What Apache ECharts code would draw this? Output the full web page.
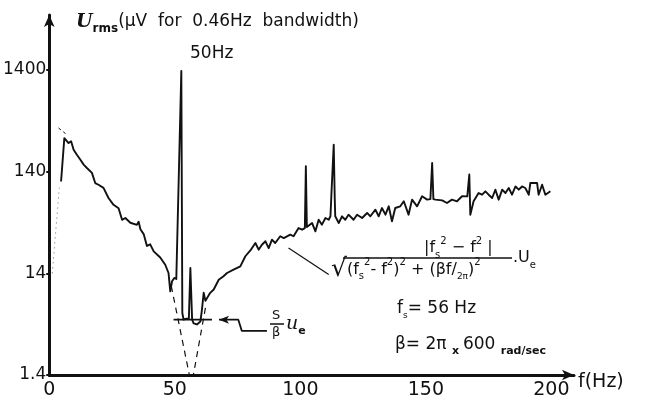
<!DOCTYPE html>
<html><head><meta charset="utf-8">
<script src="https://cdn.jsdelivr.net/npm/echarts@6/dist/echarts.min.js"></script>
<style>html,body{margin:0;padding:0;background:#fff}#c{width:648px;height:406px}</style>
</head><body><div id="c"></div>
<script>
// Measured spectrum: frequency (Hz) and U_rms (µV)
const freq = [4.7,6.0,7.7,8.7,9.7,11.0,12.4,13.7,15.0,17.0,18.3,19.6,21.6,23.6,25.6,27.6,29.0,30.3,32.3,34.9,35.6,36.3,37.6,38.9,40.2,41.6,44.2,46.2,47.5,48.2,48.9,49.8,50.6,52.6,53.0,53.5,54.6,55.6,56.2,56.9,57.5,58.8,60.2,60.8,61.5,62.2,62.8,64.1,65.5,67.5,69.4,70.8,73.4,76.1,78.1,80.1,82.1,83.4,84.7,86.1,87.4,88.7,90.0,92.0,93.4,96.0,97.3,99.3,100.7,101.8,102.2,102.6,103.3,104.7,106.0,107.3,108.6,110.0,111.3,112.0,112.4,112.9,113.3,113.7,113.9,115.3,116.6,117.9,119.2,121.2,122.6,124.6,126.6,127.9,129.9,131.2,132.5,133.9,135.2,136.5,137.8,139.8,141.2,143.1,144.5,146.5,148.5,150.5,151.8,152.5,153.0,153.8,156.5,158.4,160.4,162.4,164.4,166.5,167.3,167.7,169.0,171.0,172.4,173.7,175.0,176.4,177.7,179.0,180.4,181.7,183.0,184.3,185.7,187.0,188.3,189.6,191.0,191.6,194.3,194.9,196.3,197.6,199.6];
const urms = [112,299,267,278,230,205,183,164,152,136,108,104,97,77,66,61,47,49,44,42,45,38,34,26,27,23,20,17,14.1,9.3,11.7,12.6,12.3,1365,5.7,4.9,5.0,5.0,15.8,4.9,4.5,4.4,4.7,6.1,9.0,7.5,7.3,9.0,9.7,12.1,13.1,14.1,15.2,16.4,20.6,23.5,27.8,23.9,26.7,28.9,24.8,30,27.8,32.4,31.1,33.6,32.4,39,37.6,39,158,40,40.6,43.7,36.2,47.1,42.1,49,47.1,50.9,86,86,257,77,50.9,43.7,50.9,47.1,52.8,47.1,52.8,49,54.9,50.9,59.1,50.9,61.4,52.8,63.8,45.4,61.4,63.8,71.5,52.8,74.2,63.8,80.1,74.2,75,170,75,74.2,73,68.8,74.2,71.5,80.1,80,131,52.8,71.5,86.2,83,89.6,83,77,93,74.2,93,86.2,96.6,83,100,93,100,96.6,83,108,108,83,104,83,89.6];
// Theoretical notch (dashed) and extrapolations
const notchLeftF = [48.6, 55.8], notchLeftU = [10.5, 1.4];
const notchRightF = [62.2, 57.4], notchRightU = [6.4, 1.4];
const lowEndF = [3.7, 7.0], lowEndU = [376, 323];
const axisDotF = [1.2, 4.0], axisDotU = [14, 97];
// Floor level S/beta * Ue
const floorF = [49.5, 64.8], floorU = [4.9, 4.9];
const floorArrowF = [67.6, 75.3, 76.7, 86.7], floorArrowU = [4.9, 4.9, 3.8, 3.8];
const formulaPtrF = [95.3, 111.3], formulaPtrU = [24.8, 13.6];
const xTicks = [0, 50, 100, 150, 200];
const yTicks = ['1.4', '14', '140', '1400'];

const Y0 = 1.4;
const ly = u => Math.log10(u / Y0);
const pts = (fs, us) => fs.map((f, i) => [f, ly(us[i])]);

const FONT = 'DejaVu Sans';
const INK = '#111';

const chart = echarts.init(document.getElementById('c'));
const txt = (left, top, text, rich, size) => ({
  type: 'text', left, top,
  style: { text, fill: INK, font: (size || 16) + 'px ' + FONT, rich: rich || {} }
});
const R = {
  t: { fontSize: 16, fontFamily: FONT, color: INK, lineHeight: 24, verticalAlign: 'middle' },
  sb: { fontSize: 10, fontFamily: FONT, color: INK, verticalAlign: 'bottom', lineHeight: 24 },
  sp: { fontSize: 10, fontFamily: FONT, color: INK, verticalAlign: 'top', lineHeight: 24 },
  sm: { fontSize: 9, fontFamily: FONT, color: INK, verticalAlign: 'bottom', lineHeight: 22 },
  rad: { fontSize: 25, fontFamily: FONT, color: INK, lineHeight: 24, verticalAlign: 'middle' }
};

chart.setOption({
  animation: false,
  backgroundColor: '#fff',
  title: {
    text: '{u|U}{s|rms}{t|(μV  for  0.46Hz  bandwidth)}',
    left: 71, top: 4,
    textStyle: {
      fontWeight: 'normal',
      rich: {
        u: { fontSize: 19, fontFamily: 'DejaVu Serif', fontStyle: 'italic', fontWeight: 'bold', color: INK, lineHeight: 26, verticalAlign: 'middle' },
        s: { fontSize: 12, fontFamily: FONT, fontWeight: 'bold', color: INK, verticalAlign: 'bottom', lineHeight: 26 },
        t: { fontSize: 17, fontFamily: FONT, fontWeight: 'normal', color: INK, lineHeight: 26, verticalAlign: 'middle' }
      }
    }
  },
  grid: { left: 49, right: 74, top: 15, bottom: 31 },
  xAxis: {
    type: 'value', min: 0, max: 209, interval: 50,
    axisLine: { lineStyle: { color: INK, width: 3 }, symbol: ['none', 'arrow'], symbolSize: [8, 12] },
    axisTick: { show: false },
    splitLine: { show: false },
    axisLabel: {
      color: INK, fontSize: 19, fontFamily: FONT, margin: 6, showMaxLabel: false,
      formatter: v => xTicks.includes(v) ? String(v) : ''
    }
  },
  yAxis: {
    type: 'value', min: 0, max: 3.54, interval: 1,
    axisLine: { show: true, lineStyle: { color: INK, width: 3 }, symbol: ['none', 'arrow'], symbolSize: [8, 12] },
    axisTick: { show: true, length: 3, lineStyle: { color: INK, width: 2 } },
    splitLine: { show: false },
    axisLabel: {
      color: INK, fontSize: 17, fontFamily: FONT, margin: 3, showMaxLabel: false,
      formatter: v => {
        const i = Math.round(v);
        return Math.abs(v - i) < 1e-6 && yTicks[i] !== undefined ? yTicks[i] : '';
      }
    }
  },
  series: [
    { type: 'line', data: pts(freq, urms), showSymbol: false, symbol: 'none',
      lineStyle: { color: INK, width: 1.9, join: 'round' } },
    { type: 'line', data: pts(notchLeftF, notchLeftU), symbol: 'none',
      lineStyle: { color: INK, width: 1.2, type: [6, 5] } },
    { type: 'line', data: pts(notchRightF, notchRightU), symbol: 'none',
      lineStyle: { color: INK, width: 1.2, type: [6, 5] } },
    { type: 'line', data: pts(lowEndF, lowEndU), symbol: 'none',
      lineStyle: { color: INK, width: 1, type: [3, 3] } },
    { type: 'line', data: pts(axisDotF, axisDotU), symbol: 'none',
      lineStyle: { color: '#666', width: 1, type: [1, 4] } },
    { type: 'line', data: pts(floorF, floorU), symbol: 'none',
      lineStyle: { color: INK, width: 1.8 } },
    { type: 'line', symbol: 'none',
      data: pts(floorArrowF, floorArrowU).map((p, i) => i === 0
        ? { value: p, symbol: 'arrow', symbolSize: [6, 10], symbolRotate: 90, itemStyle: { color: INK } }
        : { value: p }),
      showSymbol: true,
      lineStyle: { color: INK, width: 1.8 } },
    { type: 'line', data: pts(formulaPtrF, formulaPtrU), symbol: 'none',
      lineStyle: { color: INK, width: 1.2 } }
  ],
  graphic: [
    txt(190, 45, '50Hz', null, 17),
    txt(424, 236, '{t||f}{sb|s}{sp|2}{t| − f}{sp|2}{t| |}', R),
    { type: 'line', shape: { x1: 343, y1: 258, x2: 512, y2: 258 }, style: { stroke: INK, lineWidth: 1.5 } },
    txt(331, 257, '{rad|√}{t|(f}{sb|s}{sp|2}{t|- f}{sp|2}{t|)}{sp|2}{t| + (βf/}{sm|2π}{t|)}{sp|2}', R),
    txt(513, 250, '{t|.U}{sb|e}', R),
    txt(397, 300, '{t|f}{sb|s}{t|= 56 Hz}', {
      t: { fontSize: 17, fontFamily: FONT, color: INK, lineHeight: 24, verticalAlign: 'middle' },
      sb: { fontSize: 9, fontFamily: FONT, color: INK, verticalAlign: 'bottom', lineHeight: 24 }
    }),
    txt(395, 336, '{t|β= 2π }{s|x }{t|600 }{s|rad/sec}', {
      t: { fontSize: 17, fontFamily: FONT, color: INK, lineHeight: 24, verticalAlign: 'middle' },
      s: { fontSize: 11, fontFamily: FONT, color: INK, fontWeight: 'bold', verticalAlign: 'bottom', lineHeight: 22 }
    }),
    txt(272, 309, 'S', null, 13),
    { type: 'line', shape: { x1: 270, y1: 324, x2: 284, y2: 324 }, style: { stroke: INK, lineWidth: 1.5 } },
    txt(272, 326, 'β', null, 13),
    txt(286, 315, '{u|u}{sb|e}', {
      u: { fontSize: 19, fontFamily: 'DejaVu Serif', fontStyle: 'italic', color: INK, lineHeight: 24, verticalAlign: 'middle' },
      sb: { fontSize: 11, fontFamily: FONT, fontWeight: 'bold', color: INK, verticalAlign: 'bottom', lineHeight: 24 }
    }),
    txt(578, 373, 'f(Hz)', null, 19)
  ]
});
</script>
</body></html>
